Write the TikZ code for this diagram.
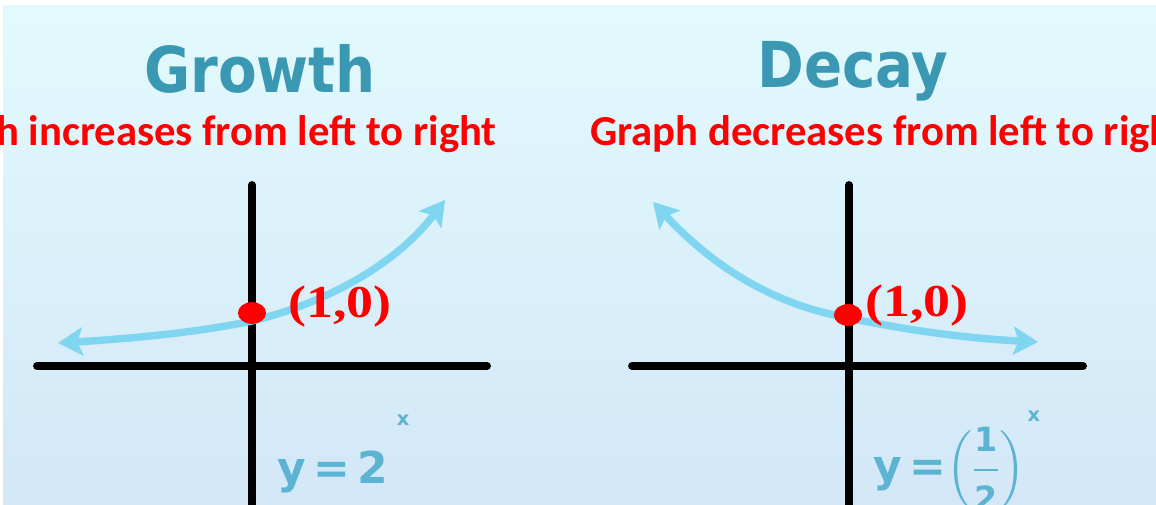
\documentclass[tikz,border=0pt]{standalone}
\usepackage{amsmath}
\usepackage{graphicx}
\usepackage{fontspec}
\usepackage{xcolor}
\usepackage{tikz}
\usetikzlibrary{arrows.meta}

\setmainfont{Carlito}
\newfontfamily\headfont{DejaVu Sans}
\newfontfamily\pointfont{Liberation Serif}

\definecolor{bgtop}{RGB}{226,250,253}
\definecolor{bgbot}{RGB}{211,231,247}
\definecolor{headteal}{RGB}{58,152,178}
\definecolor{curveblue}{RGB}{128,214,241}
\definecolor{formblue}{RGB}{92,180,210}
\definecolor{markred}{RGB}{255,0,0}

\newcommand{\fracnum}[1]{\text{\fontsize{19}{19}\selectfont #1}}

\begin{document}
\begin{tikzpicture}[x=0.02cm, y=-0.02cm, line join=round,
  axis/.style={line width=4.5pt, line cap=round, black},
  curve/.style={line width=4.2pt, curveblue, >={Stealth[length=14pt,width=16pt,inset=3pt]}, <->},
  head/.style={inner sep=0pt, text=headteal, font=\headfont\bfseries\fontsize{36}{40}\selectfont},
  note/.style={inner sep=0pt, text=markred, font=\bfseries\fontsize{24.3}{28}\selectfont},
  pointlabel/.style={inner sep=0pt, text=markred, font=\pointfont\bfseries\fontsize{26}{30}\selectfont},
  formula/.style={inner sep=0pt, text=formblue, font=\headfont\bfseries\fontsize{25}{30}\selectfont}]
  \useasboundingbox (0,0) rectangle (1156,504);
  \clip (0,0) rectangle (1156,504);
  \fill[white] (0,0) rectangle (1156,504);
  \shade[top color=bgtop, bottom color=bgbot] (3,5) rectangle (1156,504);

  % growth
  \coordinate (gO) at (252,366);
  \coordinate (gW) at (37,366);
  \coordinate (gE) at (487,366);
  \coordinate (gN) at (252,185);
  \coordinate (gS) at (252,520);
  \coordinate (gL) at (58,343);
  \coordinate (gP) at (252,321);
  \coordinate (gR) at (445,200);
  \coordinate (gD) at (252,313);
  \draw[axis] (gW) -- (gE);
  \draw[axis] (gN) -- (gS);
  \draw[curve] (gL) .. controls (125,339) and (195,333) .. (gP) .. controls (330,302) and (398,262) .. (gR);
  \fill[markred] (gD) ellipse [x radius=8pt, y radius=6.2pt];
  \node[pointlabel, anchor=west] (gpt) at (288,307) {\scalebox{1.18}[1]{(1,0)}};
  \node[head, anchor=base] (growth) at (260,92) {\scalebox{0.89}[1]{Growth}};
  \node[note, anchor=base east] (gnote) at (497,145) {Graph increases from left to right};
  \node[formula, anchor=base west] (gform) at (277,483) {y\,=\,2\hspace{5pt}\raisebox{33pt}{\fontsize{11}{11}\selectfont x}};

  % decay
  \coordinate (dO) at (849,366);
  \coordinate (dW) at (632,366);
  \coordinate (dE) at (1083,366);
  \coordinate (dN) at (849,185);
  \coordinate (dS) at (849,520);
  \coordinate (dL) at (653,202);
  \coordinate (dP) at (849,318);
  \coordinate (dR) at (1038,342);
  \coordinate (dD) at (848,315);
  \draw[axis] (dW) -- (dE);
  \draw[axis] (dN) -- (dS);
  \draw[curve] (dL) .. controls (718,272) and (780,306) .. (dP) .. controls (920,333) and (980,339) .. (dR);
  \fill[markred] (dD) ellipse [x radius=8pt, y radius=6.2pt];
  \node[pointlabel, anchor=west] (dpt) at (865,306) {\scalebox{1.18}[1]{(1,0)}};
  \node[head, anchor=base] (decay) at (853,87) {\scalebox{0.89}[1]{Decay}};
  \node[note, anchor=base west] (dnote) at (590,145) {Graph decreases from left to right};
  \node[formula, anchor=base west] (dform) at (873,481) {y\,=$\left(\dfrac{\fracnum{1}}{\fracnum{2}}\right)$\hspace{1pt}\raisebox{34pt}{\fontsize{11}{11}\selectfont x}};
\end{tikzpicture}
\end{document}
